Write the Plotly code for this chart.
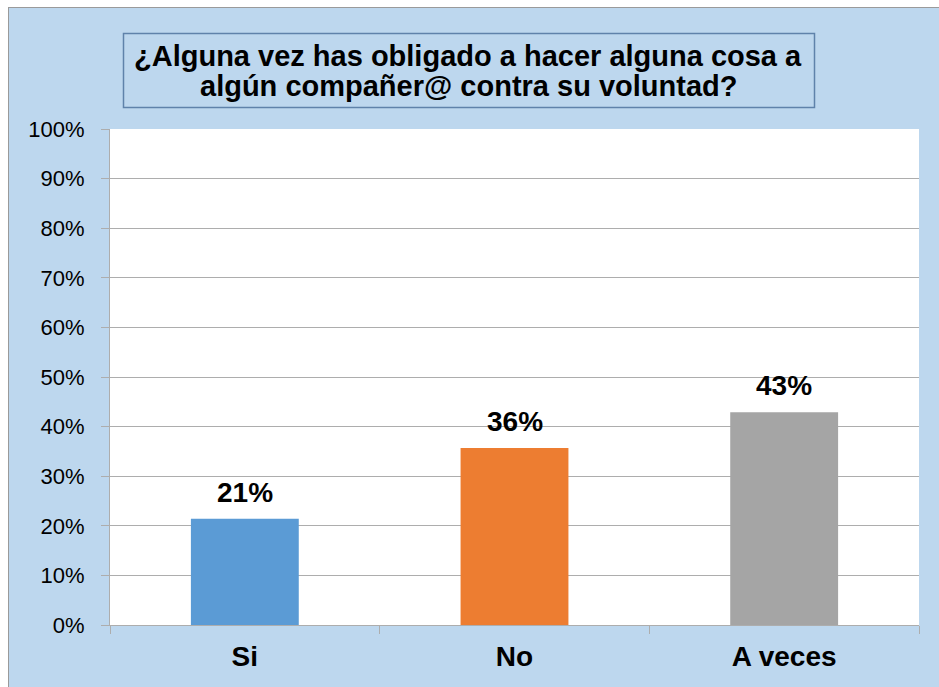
import plotly.graph_objects as go

categories = ["Si", "No", "A veces"]
shares = [0.214, 0.357, 0.429]
labels = ["21%", "36%", "43%"]
colors = ["#5B9BD5", "#ED7D31", "#A5A5A5"]

TITLE_LINES = [
    "¿Alguna vez has obligado a hacer alguna cosa a",
    "algún compañer@ contra su voluntad?",
]

_BG = "#BDD7EE"
_GRID = "#ADADAD"
_FRAME = "#9A9A9A"
_TITLE_BORDER = "#5F82AA"
_FONT = "Liberation Sans, Arial, sans-serif"

W, H = 939, 687
L, R, T, B = 110, 20, 129, 62
pw, ph = W - L - R, H - T - B


def px_x(x):
    """Page pixel x -> paper coordinate."""
    return (x - L) / pw


def px_y(y):
    """Page pixel y -> paper coordinate."""
    return (H - B - y) / ph


fig = go.Figure(
    go.Bar(
        x=categories,
        y=shares,
        marker={"color": colors, "line": {"width": 0}},
        width=0.4,
        hoverinfo="x+y",
    )
)

# data labels above the bars
for cat, value, label in zip(categories, shares, labels):
    fig.add_annotation(
        x=cat,
        y=value,
        text=f"<b>{label}</b>",
        showarrow=False,
        yanchor="bottom",
        yshift=9,
        font={"size": 28, "color": "black", "family": _FONT},
    )

# white page outside the chart frame (left and top strips)
fig.add_shape(type="rect", xref="paper", yref="paper",
              x0=px_x(-5), x1=px_x(8), y0=px_y(700), y1=px_y(-5),
              fillcolor="white", line={"width": 0})
fig.add_shape(type="rect", xref="paper", yref="paper",
              x0=px_x(-5), x1=px_x(950), y0=px_y(7), y1=px_y(-5),
              fillcolor="white", line={"width": 0})
# frame edges
fig.add_shape(type="line", xref="paper", yref="paper",
              x0=px_x(8.5), x1=px_x(8.5), y0=px_y(7), y1=px_y(700),
              line={"color": _FRAME, "width": 1})
fig.add_shape(type="line", xref="paper", yref="paper",
              x0=px_x(8), x1=px_x(950), y0=px_y(7.5), y1=px_y(7.5),
              line={"color": _FRAME, "width": 1})

# title box
fig.add_shape(type="rect", xref="paper", yref="paper",
              x0=px_x(123.5), x1=px_x(814.5), y0=px_y(107.5), y1=px_y(33.5),
              fillcolor=_BG, line={"color": _TITLE_BORDER, "width": 1.5})
for line, y_mid in zip(TITLE_LINES, [55.5, 85.5]):
    fig.add_annotation(
        text=f"<b>{line}</b>",
        xref="paper",
        yref="paper",
        x=px_x(468),
        y=px_y(y_mid),
        showarrow=False,
        xanchor="center",
        yanchor="middle",
        font={"size": 29, "color": "black", "family": _FONT},
    )

fig.update_layout(
    width=W,
    height=H,
    margin={"l": L, "r": R, "t": T, "b": B},
    paper_bgcolor=_BG,
    plot_bgcolor="white",
    showlegend=False,
    font={"family": _FONT, "color": "black"},
)
fig.update_yaxes(
    range=[0, 1],
    dtick=0.1,
    tickformat=".0%",
    showgrid=True,
    gridcolor=_GRID,
    gridwidth=1,
    zeroline=False,
    showline=True,
    linecolor=_GRID,
    ticks="outside",
    ticklen=8,
    tickcolor=_GRID,
    tickfont={"size": 22, "color": "black"},
    ticklabelstandoff=12,
)
fig.update_xaxes(
    showgrid=False,
    showline=True,
    linecolor=_GRID,
    ticks="outside",
    tickson="boundaries",
    ticklen=8,
    tickcolor=_GRID,
    tickfont={"size": 28, "color": "black"},
    tickprefix="<b>",
    ticksuffix="</b>",
    ticklabelstandoff=6,
)

# drop the browser's default body margin so the figure fills the window
fig.write_html(
    "out.html",
    config={"displayModeBar": False},
    post_script="document.body.style.margin = '0'; document.body.style.overflow = 'hidden';",
)
